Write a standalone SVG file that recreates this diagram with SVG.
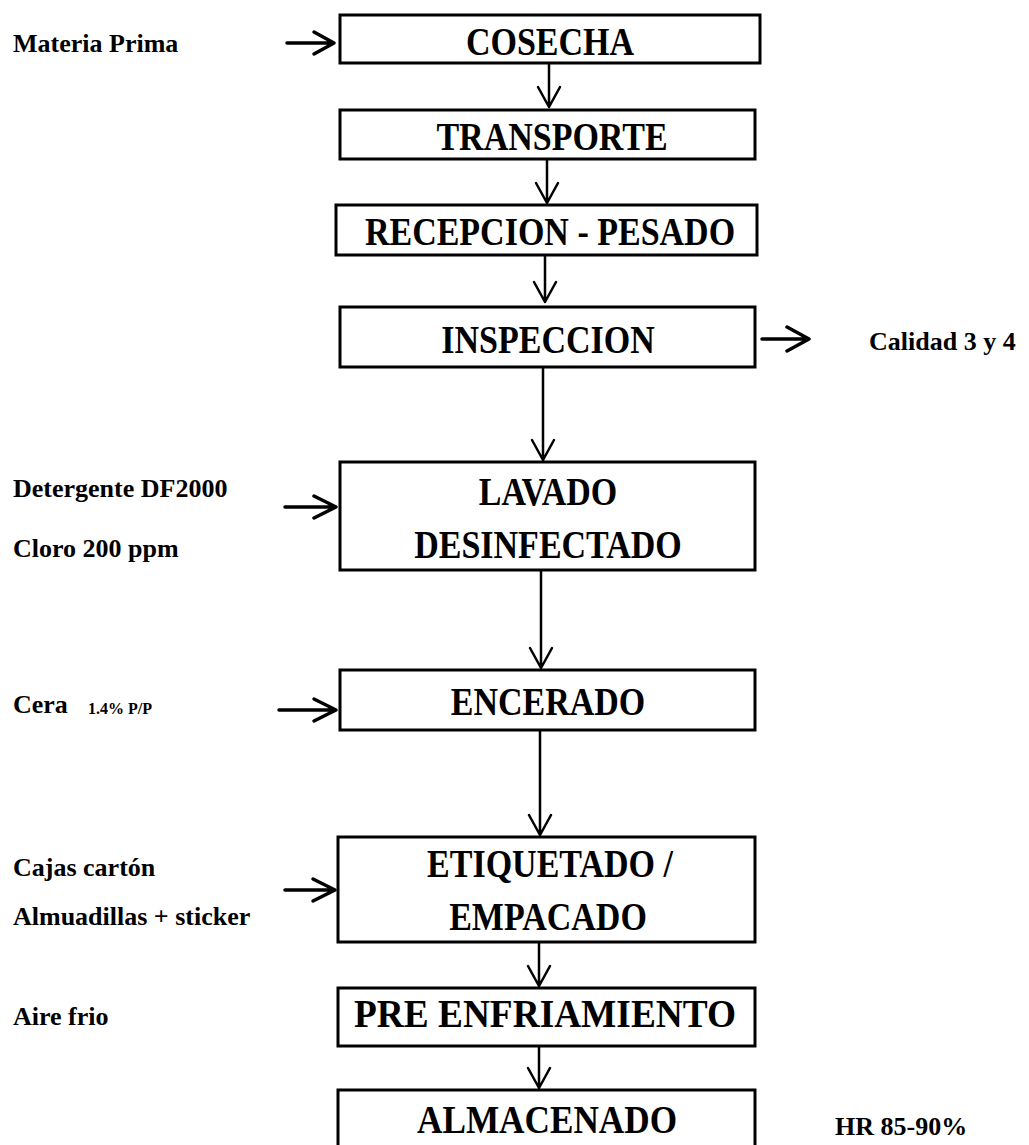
<svg xmlns="http://www.w3.org/2000/svg" width="1029" height="1145" viewBox="0 0 1029 1145">
<style>
.box{fill:#fff;stroke:#000;stroke-width:3}
.bt{font-family:"Liberation Serif","Times New Roman",serif;font-weight:bold;font-size:34px;text-anchor:middle;fill:#000}
.lb{font-family:"Liberation Serif","Times New Roman",serif;font-weight:bold;font-size:26px;fill:#000}
.sm{font-family:"Liberation Serif","Times New Roman",serif;font-weight:bold;font-size:16px;fill:#000}
.ln{fill:none;stroke:#000;stroke-width:2.5;stroke-linecap:round;stroke-linejoin:round}
.lh{fill:none;stroke:#000;stroke-width:3.5;stroke-linecap:round;stroke-linejoin:round}
</style>
<rect width="1029" height="1145" fill="#fff"/>
<g id="connectors">
<path class="ln" d="M549,63V107M538,87L549,107L560,87"/>
<path class="ln" d="M547,159V203M536,183L547,203L558,183"/>
<path class="ln" d="M545,255V302M534,282L545,302L556,282"/>
<path class="ln" d="M543,367V460M532,440L543,460L554,440"/>
<path class="ln" d="M541,570V668M530,648L541,668L552,648"/>
<path class="ln" d="M540,730V835M529,815L540,835L551,815"/>
<path class="ln" d="M539,942V986M528,966L539,986L550,966"/>
<path class="ln" d="M539,1046V1088M528,1068L539,1088L550,1068"/>
<path class="lh" d="M287,43H334M314,32L334,43L314,54"/>
<path class="lh" d="M762,339H809M787,327L809,339L787,351"/>
<path class="lh" d="M285,507H336M314,496L336,507L314,518"/>
<path class="lh" d="M279,710H336M314,699L336,710L314,721"/>
<path class="lh" d="M285,890H335M313,879L335,890L313,901"/>
</g>
<g id="n-cosecha"><rect class="box" x="340" y="15" width="420" height="48"/><text class="bt" transform="translate(550,55) scale(1,1.2)">COSECHA</text></g>
<g id="n-transporte"><rect class="box" x="340" y="110" width="415" height="49"/><text class="bt" transform="translate(552,150) scale(1,1.2)">TRANSPORTE</text></g>
<g id="n-recepcion"><rect class="box" x="336" y="205" width="421" height="50"/><text class="bt" transform="translate(550,245) scale(1,1.2)">RECEPCION - PESADO</text></g>
<g id="n-inspeccion"><rect class="box" x="340" y="307" width="415" height="60"/><text class="bt" transform="translate(548,353) scale(1,1.2)">INSPECCION</text></g>
<g id="n-lavado"><rect class="box" x="340" y="462" width="415" height="108"/><text class="bt" transform="translate(548,505) scale(1,1.2)">LAVADO</text><text class="bt" transform="translate(548,558) scale(1,1.2)">DESINFECTADO</text></g>
<g id="n-encerado"><rect class="box" x="340" y="670" width="415" height="60"/><text class="bt" transform="translate(548,715) scale(1,1.2)">ENCERADO</text></g>
<g id="n-etiquetado"><rect class="box" x="338" y="837" width="417" height="105"/><text class="bt" transform="translate(550,877) scale(1,1.2)">ETIQUETADO /</text><text class="bt" transform="translate(548,930) scale(1,1.2)">EMPACADO</text></g>
<g id="n-preenfriamiento"><rect class="box" x="338" y="988" width="417" height="58"/><text class="bt" transform="translate(545,1027) scale(1,1.2)" textLength="382" lengthAdjust="spacingAndGlyphs">PRE ENFRIAMIENTO</text></g>
<g id="n-almacenado"><rect class="box" x="338" y="1090" width="417" height="70"/><text class="bt" transform="translate(547,1133) scale(1,1.2)" textLength="260" lengthAdjust="spacingAndGlyphs">ALMACENADO</text></g>
<g id="labels">
<text class="lb" x="13" y="52">Materia Prima</text>
<text class="lb" x="869" y="350">Calidad 3 y 4</text>
<text class="lb" x="13" y="497">Detergente DF2000</text>
<text class="lb" x="13" y="557">Cloro 200 ppm</text>
<text class="lb" x="13" y="713">Cera</text>
<text class="sm" x="88" y="714">1.4% P/P</text>
<text class="lb" x="13" y="876">Cajas cartón</text>
<text class="lb" x="13" y="925">Almuadillas + sticker</text>
<text class="lb" x="13" y="1025">Aire frio</text>
<text class="lb" x="835" y="1135">HR 85-90%</text>
</g>
</svg>
